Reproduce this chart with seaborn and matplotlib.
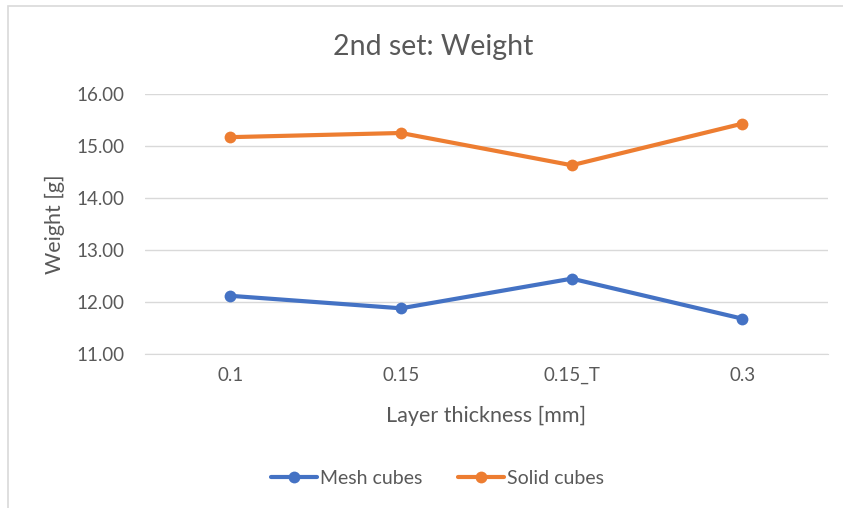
import matplotlib
matplotlib.use("Agg")
import matplotlib.pyplot as plt
import matplotlib.patches as mpatches
import pandas as pd
import seaborn as sns

# datos
thickness = ["0.1", "0.15", "0.15_T", "0.3"]
mesh_cubes = [12.12, 11.88, 12.45, 11.68]
solid_cubes = [15.17, 15.25, 14.63, 15.43]

colors = ["#4472C4", "#ED7D31"]
grey_txt = "#595959"
grey_line = "#D9D9D9"

df = pd.DataFrame({
    "thickness": thickness * 2,
    "weight": mesh_cubes + solid_cubes,
    "serie": ["Mesh cubes"] * 4 + ["Solid cubes"] * 4,
})

sns.set_style("white")
plt.rcParams["font.family"] = ["Lato", "DejaVu Sans"]

fig = plt.figure(figsize=(8.43, 5.08), dpi=100)
ax = fig.add_axes([0.172, 0.303, 0.81, 0.512])

sns.lineplot(data=df, x="thickness", y="weight", hue="serie", palette=colors,
             marker="o", markersize=8.5, markeredgewidth=0, linewidth=3,
             sort=False, ax=ax)

ax.set_xlim(-0.5, 3.5)
ax.set_ylim(11, 16)
ax.set_yticks([11, 12, 13, 14, 15, 16])
ax.set_yticklabels([f"{v:.2f}" for v in [11, 12, 13, 14, 15, 16]])
ax.grid(True, axis="y", color=grey_line, linewidth=1)
ax.set_axisbelow(True)
for s in ["top", "right", "left"]:
    ax.spines[s].set_visible(False)
ax.spines["bottom"].set_color(grey_line)
ax.tick_params(axis="both", length=0, labelsize=13.5, colors=grey_txt)
ax.tick_params(axis="x", pad=9)
ax.tick_params(axis="y", pad=15)

ax.set_xlabel("Layer thickness [mm]", fontsize=15.5, color=grey_txt, labelpad=16)
ax.set_ylabel("Weight [g]", fontsize=15.5, color=grey_txt, labelpad=8)
fig.text(0.514, 0.908, "2nd set: Weight", ha="center", va="center",
         fontsize=20.5, color=grey_txt)

ax.legend(title=None, loc="center", bbox_to_anchor=(0.519, 0.058),
          bbox_transform=fig.transFigure, ncol=2, frameon=False,
          fontsize=14, labelcolor=grey_txt, handlelength=2.4,
          columnspacing=1.8, handletextpad=0.15)

# marco del grafico
fig.patches.append(mpatches.Rectangle((0.009, -0.02), 1.0, 1.008,
                                      transform=fig.transFigure, fill=False,
                                      edgecolor=grey_line, linewidth=1.2))

fig.savefig("out.png", dpi=100)
